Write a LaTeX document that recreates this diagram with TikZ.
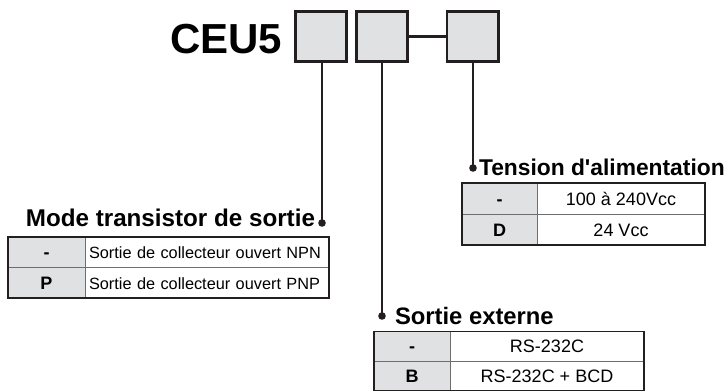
\documentclass[tikz,border=0pt]{standalone}
\usepackage{fontspec}
\setmainfont{Liberation Sans}
\definecolor{cellgray}{HTML}{E0E1E3}
\definecolor{boxline}{HTML}{231F20}
\definecolor{gridline}{HTML}{6E6E6E}
\begin{document}
\begin{tikzpicture}[x=1pt,y=1pt,
  codebox/.style={draw=boxline, line width=2.6, fill=cellgray, minimum width=51.4, minimum height=50.4, inner sep=0, outer sep=0},
  conn/.style={draw=boxline, line width=2.4},
  titletext/.style={inner sep=0, outer sep=0, text=black},
  keycell/.style={draw=gridline, line width=0.9, fill=cellgray, inner sep=0, outer sep=0, anchor=north west,
     font=\fontsize{18}{18}\selectfont\bfseries, text height=13, text depth=0},
  valcell/.style={draw=gridline, line width=0.9, fill=white, inner sep=0, outer sep=0, anchor=north west,
     font=\fontsize{18}{18}\selectfont, text height=13, text depth=0},
  tableframe/.style={draw=boxline, line width=1.5},
  dot/.style={fill=boxline}]
\useasboundingbox (0,0) rectangle (727,-391);

% code
\node[font=\fontsize{42}{42}\selectfont\bfseries, inner sep=0, anchor=base west] (ceu) at (170,-53) {CEU5};
\node[codebox] (b1) at (321,-36.5) {};
\node[codebox] (b2) at (382,-36.5) {};
\node[codebox] (b3) at (472.5,-36.5) {};
\draw[conn, line width=2.8] (b2.east) -- (b3.west);

% connector ends
\coordinate (d1) at (322,-223);
\coordinate (d2) at (382,-316);
\coordinate (d3) at (473,-168);
\draw[conn] (b1.south -| d1) -- (d1);
\draw[conn] (b2.south -| d2) -- (d2);
\draw[conn] (b3.south -| d3) -- (d3);
\fill[dot] (d1) circle (3.8);
\fill[dot] (d2) circle (3.8);
\fill[dot] (d3) circle (3.8);

% Mode transistor de sortie
\node[titletext, anchor=base east, font=\fontsize{24.2}{24}\selectfont\bfseries] (t1) at (315,-226.5) {Mode transistor de sortie};
\node[keycell, minimum width=77, minimum height=30.5] (m1) at (8,-237) {-};
\node[valcell, minimum height=30.5, text width=236, align=left, inner xsep=4, font=\fontsize{16.3}{16.3}\selectfont] (m2) at (m1.north east) {Sortie de collecteur ouvert NPN};
\node[keycell, minimum width=77, minimum height=30.5] (m3) at (m1.south west) {P};
\node[valcell, minimum height=30.5, text width=236, align=left, inner xsep=4, font=\fontsize{16.3}{16.3}\selectfont] (m4) at (m3.north east) {Sortie de collecteur ouvert PNP};
\draw[tableframe] (m1.north west) rectangle (m4.south east);

% Tension d'alimentation
\node[titletext, anchor=base west, font=\fontsize{22.8}{23}\selectfont\bfseries] (t3) at (479,-175) {Tension d\textquotesingle alimentation};
\node[keycell, minimum width=75, minimum height=31] (a1) at (462,-183) {-};
\node[valcell, minimum width=168, minimum height=31] (a2) at (a1.north east) {100 à 240Vcc};
\node[keycell, minimum width=75, minimum height=31] (a3) at (a1.south west) {D};
\node[valcell, minimum width=168, minimum height=31] (a4) at (a3.north east) {24 Vcc};
\draw[tableframe] (a1.north west) rectangle (a4.south east);

% Sortie externe
\node[titletext, anchor=base west, font=\fontsize{23.8}{24}\selectfont\bfseries] (t2) at (395,-324) {Sortie externe};
\node[keycell, minimum width=76, minimum height=29.5] (s1) at (374,-331.5) {-};
\node[valcell, minimum width=194, minimum height=29.5] (s2) at (s1.north east) {RS-232C};
\node[keycell, minimum width=76, minimum height=29.5] (s3) at (s1.south west) {B};
\node[valcell, minimum width=194, minimum height=29.5] (s4) at (s3.north east) {RS-232C + BCD};
\draw[tableframe] (s1.north west) rectangle (s4.south east);
\end{tikzpicture}
\end{document}
